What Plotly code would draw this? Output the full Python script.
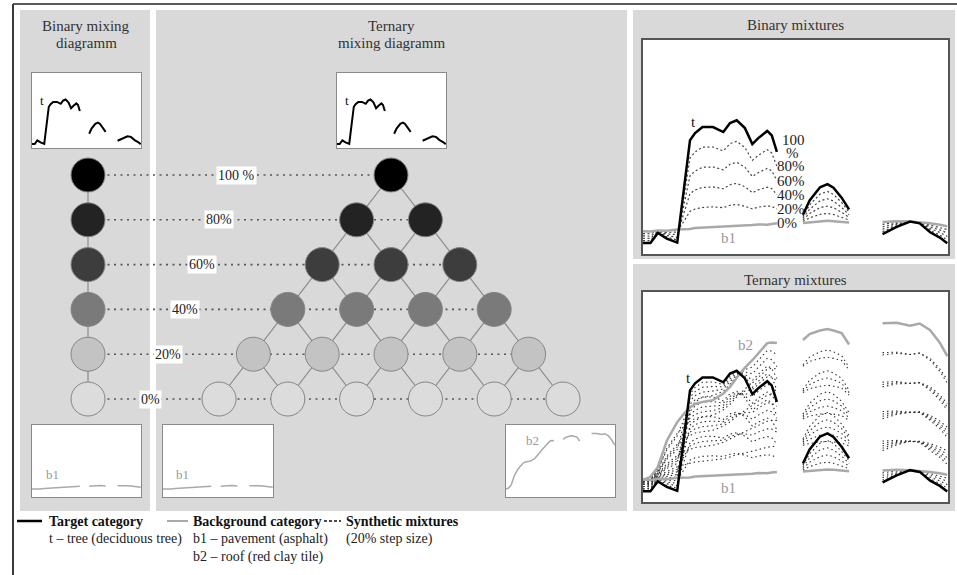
import plotly.graph_objects as go

W, H = 957, 575
FONT = "Liberation Serif, Times New Roman, serif"

# ---------------- data ----------------
# wavelength grid (nm), three segments separated by absorption gaps
wl_seg1 = [400, 450, 500, 560, 630, 680, 716, 750, 800, 870, 940, 985, 1030, 1085, 1135, 1175, 1235, 1265, 1300]
wl_seg2 = [1475, 1520, 1590, 1640, 1680, 1735, 1785]
wl_seg3 = [2010, 2105, 2195, 2260, 2330, 2395, 2445]

# reflectance (%) – target: tree (deciduous)
tree_seg1 = [3.1, 3.1, 5.9, 4.3, 3.2, 20.0, 31.9, 33.9, 35.6, 35.6, 34.2, 36.7, 37.5, 35.3, 30.8, 32.5, 34.5, 33.3, 28.6]
tree_seg2 = [11.0, 15.0, 18.7, 19.6, 18.6, 15.8, 12.5]
tree_seg3 = [5.6, 7.6, 9.1, 8.6, 6.1, 4.6, 3.0]

# background b1: pavement (asphalt)
pave_seg1 = [6.4, 6.3, 6.6, 6.5, 6.9, 7.0, 7.0, 7.3, 7.4, 7.6, 7.7, 7.9, 8.0, 7.9, 8.1, 8.3, 8.2, 8.4, 8.6]
pave_seg2 = [8.7, 8.9, 9.2, 9.3, 9.2, 9.0, 8.8]
pave_seg3 = [9.0, 9.2, 9.1, 8.9, 8.6, 8.2, 7.8]

# background b2: roof (red clay tile)
roof_seg1 = [6.3, 7.2, 10.0, 17.5, 22.8, 25.5, 27.0, 28.0, 28.6, 29.1, 31.0, 32.9, 35.5, 38.4, 40.5, 42.5, 45.4, 45.6, 45.4]
roof_seg2 = [46.3, 48.0, 49.0, 49.4, 49.0, 48.3, 45.0]
roof_seg3 = [51.1, 51.2, 50.4, 51.0, 49.1, 45.5, 41.7]

# mixing fractions of the target (20 % step size)
fractions = [0.0, 0.2, 0.4, 0.6, 0.8, 1.0]
pct_labels = ["0%", "20%", "40%", "60%", "80%", "100 %"]
circle_fills = ["#dcdcdc", "#c3c3c3", "#7a7a7a", "#3d3d3d", "#232323", "#000000"]


def join(a, b, c):
    return a + [None] + b + [None] + c


wl = join(wl_seg1, wl_seg2, wl_seg3)
tree = join(tree_seg1, tree_seg2, tree_seg3)
pave = join(pave_seg1, pave_seg2, pave_seg3)
roof = join(roof_seg1, roof_seg2, roof_seg3)


def mix(ft, f1, f2):
    out = []
    for a, b, c in zip(tree, pave, roof):
        out.append(None if a is None else ft * a + f1 * b + f2 * c)
    return out


# ---------------- helpers (pixel layout) ----------------
def px(x):
    return x / W


def py(y):
    return 1 - y / H


def dom(x0, y0, x1, y1):
    return [px(x0), px(x1)], [py(y1), py(y0)]


fig = go.Figure()
shapes = []
annos = []


def rect(x0, y0, x1, y1, fill, line=None, lw=0):
    shapes.append(dict(type="rect", xref="paper", yref="paper", x0=px(x0), x1=px(x1), y0=py(y1), y1=py(y0),
                       fillcolor=fill, line=dict(color=line or fill, width=lw), layer="below"))


def seg(x0, y0, x1, y1, color, width, dash="solid"):
    shapes.append(dict(type="line", xref="paper", yref="paper", x0=px(x0), x1=px(x1), y0=py(y0), y1=py(y1),
                       line=dict(color=color, width=width, dash=dash)))


def text(x, y, s, size=15, color="#333", anchor="center", bold=False):
    if bold:
        s = "<b>" + s + "</b>"
    annos.append(dict(xref="paper", yref="paper", x=px(x), y=py(y), text=s, showarrow=False,
                      xanchor=anchor, yanchor="middle", font=dict(family=FONT, size=size, color=color)))


# frame and panels
PANEL = "#d9d9d9"
rect(20, 10, 150, 511, PANEL)
rect(156, 10, 627, 511, PANEL)
rect(633, 10, 955, 259, PANEL)
rect(633, 264, 955, 511, PANEL)
seg(13, 4, 957, 4, "#5a5a5a", 2)
seg(13, 4, 13, 575, "#3a3a3a", 2)

# titles
text(86, 26, "Binary mixing")
text(86, 43, "diagramm")
text(391, 26, "Ternary")
text(391, 43, "mixing diagramm")
text(795, 25, "Binary mixtures")
text(795, 280, "Ternary mixtures")

# ---------------- mixing diagram (axis 1) ----------------
U_L, U_R = 219, 563          # pixel x of u=-1 (b1 corner) and u=+1 (b2 corner)
T0, T1 = 399, 175            # pixel y of target fraction 0 and 1
sx = (U_R - U_L) / 2
sy = (T0 - T1)
BIN_PX = 88
u_bin = -1 - (U_L - BIN_PX) / sx

xr = [-1 - U_L / sx, 1 + (W - U_R) / sx]
yr = [-(H - T0) / sy, 1 + T1 / sy]

# ternary lattice points
nodes = []
n = len(fractions) - 1
for i, ft in enumerate(fractions):
    for j in range(n - i + 1):
        f2 = fractions[j]
        f1 = round(1 - ft - f2, 10)
        nodes.append((ft, f1, f2, i))

# lattice lines
lx, ly = [], []
for ft, f1, f2, i in nodes:
    if i > 0:
        u = f2 - f1
        step = fractions[1]
        for du in (-step, step):
            lx += [u, u + du, None]
            ly += [ft, ft - step, None]
lx += [u_bin, u_bin]
ly += [fractions[0], fractions[-1]]
fig.add_trace(go.Scatter(x=lx, y=ly, mode="lines", line=dict(color="#8c8c8c", width=1.2),
                         hoverinfo="skip", xaxis="x", yaxis="y"))

# dotted rows
for i, ft in enumerate(fractions):
    umax = 1 - ft
    fig.add_trace(go.Scatter(x=[u_bin, umax], y=[ft, ft], mode="lines",
                             line=dict(color="#555", width=1.6, dash="2px,4.5px"),
                             hoverinfo="skip", xaxis="x", yaxis="y"))

# circles
cx = [f2 - f1 for ft, f1, f2, i in nodes] + [u_bin] * len(fractions)
cy = [ft for ft, f1, f2, i in nodes] + fractions
cc = [circle_fills[i] for ft, f1, f2, i in nodes] + circle_fills
fig.add_trace(go.Scatter(x=cx, y=cy, mode="markers",
                         marker=dict(size=34, color=cc, line=dict(color="#858585", width=1)),
                         hoverinfo="skip", xaxis="x", yaxis="y"))

for i, ft in enumerate(fractions):
    u_left = -(1 - ft)
    annos.append(dict(xref="x", yref="y", x=(u_bin + u_left) / 2, y=ft, text=pct_labels[i], showarrow=False,
                      xshift=-3, bgcolor="white", borderpad=1,
                      font=dict(family=FONT, size=14, color="#222")))

# ---------------- spectra axes ----------------
axes_layout = {}


def hidden(dm, rng, line="#555", lw=1.5):
    return dict(domain=dm, range=rng, showticklabels=False, ticks="", showgrid=False, zeroline=False,
                showline=True, mirror=True, linecolor=line, linewidth=lw, fixedrange=True)


WL_RANGE = [400, 2450]
boxes = {
    2: ((643, 40, 948, 254), [0, 60], "#555", 1.5),
    3: ((643, 292, 948, 502), [0, 60], "#555", 1.5),
    4: ((32, 73, 141, 148), [0, 58], "#8a8a8a", 1),
    5: ((337, 73, 446, 148), [0, 58], "#8a8a8a", 1),
    6: ((32, 425, 141, 497), [0, 58], "#8a8a8a", 1),
    7: ((163, 425, 273, 497), [0, 58], "#8a8a8a", 1),
    8: ((506, 425, 615, 497), [0, 58], "#8a8a8a", 1),
}
for k, (b, yrng, lc, lw) in boxes.items():
    rect(*b, "white")
    xd, yd = dom(*b)
    axes_layout["xaxis%d" % k] = hidden(xd, WL_RANGE, lc, lw)
    axes_layout["yaxis%d" % k] = hidden(yd, yrng, lc, lw)
    axes_layout["xaxis%d" % k]["anchor"] = "y%d" % k
    axes_layout["yaxis%d" % k]["anchor"] = "x%d" % k

BG = "#a9a9a9"


def spec(y, k, color, width, dash="solid"):
    fig.add_trace(go.Scatter(x=wl, y=y, mode="lines", line=dict(color=color, width=width, dash=dash),
                             connectgaps=False, hoverinfo="skip", xaxis="x%d" % k, yaxis="y%d" % k))


# binary mixtures
for ft in fractions[1:-1]:
    spec(mix(ft, 1 - ft, 0), 2, "#444", 1.2, "2px,2.5px")
spec(pave, 2, BG, 2.5)
spec(tree, 2, "black", 2.5)

# ternary mixtures
for ft, f1, f2, i in nodes:
    if max(ft, f1, f2) < 0.999:
        spec(mix(ft, f1, f2), 3, "#333", 1.1, "1.5px,3px")
spec(pave, 3, BG, 2.5)
spec(roof, 3, BG, 2.5)
spec(tree, 3, "black", 2.5)

# insets
spec(tree, 4, "black", 2)
spec(tree, 5, "black", 2)
spec(pave, 6, BG, 1.5)
spec(pave, 7, BG, 1.5)
spec(roof, 8, BG, 1.5)

# labels in binary mixtures at end of first segment
end_i = len(wl_seg1) - 1
for ft, lab in zip(fractions, pct_labels):
    v = mix(ft, 1 - ft, 0)[end_i]
    if ft == 1.0:
        annos.append(dict(xref="x2", yref="y2", x=wl_seg1[-1], y=v, text="100", showarrow=False,
                          xanchor="left", xshift=3, yshift=12, font=dict(family=FONT, size=15, color="#222")))
        annos.append(dict(xref="x2", yref="y2", x=wl_seg1[-1], y=v, text="%", showarrow=False,
                          xanchor="left", xshift=7, yshift=-1, font=dict(family=FONT, size=15, color="#222")))
    else:
        annos.append(dict(xref="x2", yref="y2", x=wl_seg1[-1], y=v, text=lab, showarrow=False,
                          xanchor="left", xshift=-2, font=dict(family=FONT, size=15, color="#222")))

# curve labels
text(693, 122, "t", 15, "#111")
text(728, 238, "b1", 15, "#999")
text(688, 378, "t", 15, "#111")
text(745, 345, "b2", 15, "#999")
text(728, 488, "b1", 15, "#999")
text(42, 101, "t", 13, "#111")
text(347, 101, "t", 13, "#111")
text(52, 474, "b1", 13, "#999")
text(182, 474, "b1", 13, "#999")
text(532, 440, "b2", 13, "#999")

# legend
seg(17, 521, 42, 521, "black", 2.5)
text(47, 521, "Target category", 14, "#111", "left", True)
text(47, 539, "t – tree (deciduous tree)", 14, "#222", "left")
seg(167, 521, 188, 521, BG, 2)
text(191, 521, "Background category", 14, "#111", "left", True)
text(191, 539, "b1 – pavement (asphalt)", 14, "#222", "left")
text(191, 557, "b2 – roof (red clay tile)", 14, "#222", "left")
seg(324, 521, 341, 521, "#111", 1.5, "3px,2px")
text(344, 521, "Synthetic mixtures", 14, "#111", "left", True)
text(344, 539, "(20% step size)", 14, "#222", "left")

fig.update_layout(
    width=W, height=H, margin=dict(l=0, r=0, t=0, b=0),
    paper_bgcolor="white", plot_bgcolor="rgba(0,0,0,0)", showlegend=False,
    xaxis=dict(domain=[0, 1], range=xr, visible=False, fixedrange=True),
    yaxis=dict(domain=[0, 1], range=yr, visible=False, fixedrange=True),
    shapes=shapes, annotations=annos,
    **axes_layout,
)
fig.write_html("out.html", config={"displayModeBar": False},
               post_script="document.body.style.margin='0px';")
